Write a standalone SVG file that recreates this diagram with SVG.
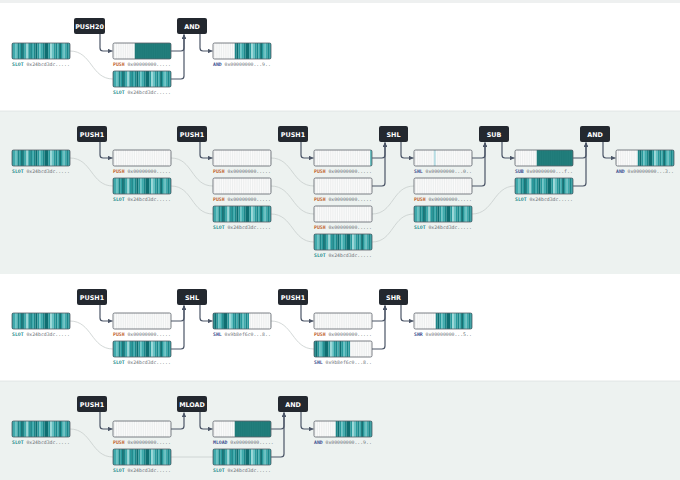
<svg xmlns="http://www.w3.org/2000/svg" xmlns:xlink="http://www.w3.org/1999/xlink" width="680" height="480" viewBox="0 0 680 480">
<style>
.s1{fill:#0f6e71}.s2{fill:#1b878a}.s3{fill:#28999c}.s4{fill:#3eabad}.s5{fill:#66c2c3}.s6{fill:#9ad8d8}
.cb{fill:none;stroke:#5a6068;stroke-width:0.8}
.wh{fill:url(#hatch)}
.dk{fill:url(#dark)}
.op rect{fill:#23282f}
.op text{fill:#ffffff;font-family:"DejaVu Sans","Liberation Sans",sans-serif;font-weight:bold;font-size:6.4px;text-anchor:middle}
.lb{font-family:"DejaVu Sans Mono","Liberation Mono",monospace;font-size:4.8px;fill:#6a6f75}
.k-slot{fill:#1d8a8b;font-weight:bold}
.k-push{fill:#c1652f;font-weight:bold}
.k-res{fill:#3c4f8f;font-weight:bold}
.ar{fill:none;stroke:#4b5567;stroke-width:1.2;marker-end:url(#ah)}
.ln{fill:none;stroke:#c8cecd;stroke-width:0.8}
</style>
<defs>
<pattern id="hatch" patternUnits="userSpaceOnUse" width="1.8125" height="16"><rect width="1.8125" height="16" fill="#fbfbfb"/><rect width="0.35" height="16" fill="#d6dada"/></pattern>
<pattern id="dark" patternUnits="userSpaceOnUse" width="1.8125" height="16"><rect width="1.8125" height="16" fill="#1e7a78"/><rect width="0.3" height="16" fill="#2a8684"/></pattern>
<marker id="ah" viewBox="0 0 6 6" refX="6" refY="3" markerWidth="4.5" markerHeight="4.5" orient="auto" markerUnits="userSpaceOnUse"><path d="M0,0 L6,3 L0,6 z" fill="#4b5567"/></marker>
<g id="hi">
<rect class="s3" x="0" y="0" width="1.85" height="16"/><rect class="s4" x="1.8125" y="0" width="1.85" height="16"/><rect class="s5" x="3.625" y="0" width="1.85" height="16"/><rect class="s2" x="5.4375" y="0" width="1.85" height="16"/><rect class="s3" x="7.25" y="0" width="1.85" height="16"/><rect class="s1" x="9.0625" y="0" width="1.85" height="16"/><rect class="s2" x="10.875" y="0" width="1.85" height="16"/><rect class="s4" x="12.6875" y="0" width="1.85" height="16"/><rect class="s6" x="14.5" y="0" width="1.85" height="16"/><rect class="s3" x="16.3125" y="0" width="1.85" height="16"/><rect class="s2" x="18.125" y="0" width="1.85" height="16"/><rect class="s4" x="19.9375" y="0" width="1.85" height="16"/>
</g>
<g id="lo">
<rect class="s2" x="0" y="0" width="1.85" height="16"/><rect class="s1" x="1.8125" y="0" width="1.85" height="16"/><rect class="s3" x="3.625" y="0" width="1.85" height="16"/><rect class="s5" x="5.4375" y="0" width="1.85" height="16"/><rect class="s4" x="7.25" y="0" width="1.85" height="16"/><rect class="s2" x="9.0625" y="0" width="1.85" height="16"/><rect class="s1" x="10.875" y="0" width="3.65" height="16"/><rect class="s3" x="14.5" y="0" width="1.85" height="16"/><rect class="s6" x="16.3125" y="0" width="1.85" height="16"/><rect class="s5" x="18.125" y="0" width="1.85" height="16"/><rect class="s3" x="19.9375" y="0" width="1.85" height="16"/><rect class="s2" x="21.75" y="0" width="1.85" height="16"/><rect class="s4" x="23.5625" y="0" width="1.85" height="16"/><rect class="s1" x="25.375" y="0" width="1.85" height="16"/><rect class="s3" x="27.1875" y="0" width="1.85" height="16"/><rect class="s5" x="29" y="0" width="1.85" height="16"/><rect class="s4" x="30.8125" y="0" width="1.85" height="16"/><rect class="s2" x="32.625" y="0" width="1.85" height="16"/><rect class="s3" x="34.4375" y="0" width="1.8125" height="16"/>
</g>
</defs>

<!-- bands -->
<g id="bands">
<rect x="0" y="0" width="680" height="480" fill="#ffffff"/>
<rect x="0" y="0" width="680" height="3" fill="#eef0f0"/>
<rect x="0" y="111" width="680" height="163" fill="#edf2f0"/>
<line x1="0" y1="111" x2="680" y2="111" stroke="#dde2e1" stroke-width="0.8"/>
<rect x="0" y="381" width="680" height="99" fill="#edf2f0"/>
<line x1="0" y1="381" x2="680" y2="381" stroke="#dde2e1" stroke-width="0.8"/>
</g>

<!-- connectors -->
<g id="connectors">
<!-- band 1 -->
<path class="ln" d="M70 51 C92 51 91 79 113 79"/>
<path class="ar" d="M100 34 V48 Q100 51 103 51 H112.5"/>
<path class="ar" d="M171 51 H181 Q184 51 184 48 V34.5"/>
<path class="ar" d="M171 79 H181 Q184 79 184 76 V34.5"/>
<path class="ar" d="M200 34 V48 Q200 51 203 51 H212.5"/>
<!-- band 2 -->
<path class="ln" d="M70 158 C92 158 91 186 113 186"/>
<path class="ln" d="M171 158 C193 158 191 186 213 186"/>
<path class="ln" d="M171 186 C193 186 191 214 213 214"/>
<path class="ln" d="M271 158 C293 158 292 186 314 186"/>
<path class="ln" d="M271 186 C293 186 292 214 314 214"/>
<path class="ln" d="M271 214 C293 214 292 242 314 242"/>
<path class="ln" d="M372 214 C394 214 392 186 414 186"/>
<path class="ln" d="M372 242 C394 242 392 214 414 214"/>
<path class="ln" d="M472 214 C494 214 493 186 515 186"/>
<path class="ar" d="M100 142 V155 Q100 158 103 158 H112.5"/>
<path class="ar" d="M200 142 V155 Q200 158 203 158 H212.5"/>
<path class="ar" d="M301 142 V155 Q301 158 304 158 H313.5"/>
<path class="ar" d="M372 158 H382 Q385 158 385 155 V142.5"/>
<path class="ar" d="M372 186 H382 Q385 186 385 183 V142.5"/>
<path class="ar" d="M401 142 V155 Q401 158 404 158 H413.5"/>
<path class="ar" d="M472 158 H482 Q485 158 485 155 V142.5"/>
<path class="ar" d="M472 186 H482 Q485 186 485 183 V142.5"/>
<path class="ar" d="M502 142 V155 Q502 158 505 158 H514.5"/>
<path class="ar" d="M573 158 H583 Q586 158 586 155 V142.5"/>
<path class="ar" d="M573 186 H583 Q586 186 586 183 V142.5"/>
<path class="ar" d="M603 142 V155 Q603 158 606 158 H615.5"/>
<!-- band 3 -->
<path class="ln" d="M70 321 C92 321 91 349 113 349"/>
<path class="ln" d="M271 321 C293 321 292 349 314 349"/>
<path class="ar" d="M100 305 V318 Q100 321 103 321 H112.5"/>
<path class="ar" d="M171 321 H181 Q184 321 184 318 V305.5"/>
<path class="ar" d="M171 349 H181 Q184 349 184 346 V305.5"/>
<path class="ar" d="M200 305 V318 Q200 321 203 321 H212.5"/>
<path class="ar" d="M301 305 V318 Q301 321 304 321 H313.5"/>
<path class="ar" d="M372 321 H382 Q385 321 385 318 V305.5"/>
<path class="ar" d="M372 349 H382 Q385 349 385 346 V305.5"/>
<path class="ar" d="M401 305 V318 Q401 321 404 321 H413.5"/>
<!-- band 4 -->
<path class="ln" d="M70 429 C92 429 91 457 113 457"/>
<path class="ln" d="M171 457 H213"/>
<path class="ar" d="M100 412 V426 Q100 429 103 429 H112.5"/>
<path class="ar" d="M171 429 H181 Q184 429 184 426 V412.5"/>
<path class="ar" d="M200 412 V426 Q200 429 203 429 H212.5"/>
<path class="ar" d="M271 429 H281 Q284 429 284 426 V412.5"/>
<path class="ar" d="M271 457 H281 Q284 457 284 454 V412.5"/>
<path class="ar" d="M301 412 V426 Q301 429 304 429 H313.5"/>
</g>

<!-- ===== band 1 ===== -->
<g id="b1-op-push20" class="op"><rect x="74" y="18" width="31" height="16" rx="2"/><text x="89.5" y="28.5">PUSH20</text></g>
<g id="b1-op-and" class="op"><rect x="177" y="18" width="30" height="16" rx="2"/><text x="192" y="28.5">AND</text></g>
<g id="b1-c0-slot"><use href="#hi" x="12" y="43"/><use href="#lo" x="33.75" y="43"/><rect class="cb" x="12" y="43" width="58" height="16" rx="1.5"/><text class="lb" x="12" y="66"><tspan class="k-slot">SLOT</tspan> 0x24bcd3dc.....</text></g>
<g id="b1-c1-push"><rect class="wh" x="113" y="43" width="21.75" height="16"/><rect class="dk" x="134.75" y="43" width="36.25" height="16"/><rect class="cb" x="113" y="43" width="58" height="16" rx="1.5"/><text class="lb" x="113" y="66"><tspan class="k-push">PUSH</tspan> 0x00000000.....</text></g>
<g id="b1-c1-slot"><use href="#hi" x="113" y="71"/><use href="#lo" x="134.75" y="71"/><rect class="cb" x="113" y="71" width="58" height="16" rx="1.5"/><text class="lb" x="113" y="94"><tspan class="k-slot">SLOT</tspan> 0x24bcd3dc.....</text></g>
<g id="b1-c2-and"><rect class="wh" x="213" y="43" width="21.75" height="16"/><use href="#lo" x="234.75" y="43"/><rect class="cb" x="213" y="43" width="58" height="16" rx="1.5"/><text class="lb" x="213" y="66"><tspan class="k-res">AND</tspan> 0x00000000...9..</text></g>

<!-- ===== band 2 ===== -->
<g id="b2-op-push1a" class="op"><rect x="77" y="126" width="30" height="16" rx="2"/><text x="92" y="136.5">PUSH1</text></g>
<g id="b2-op-push1b" class="op"><rect x="177" y="126" width="30" height="16" rx="2"/><text x="192" y="136.5">PUSH1</text></g>
<g id="b2-op-push1c" class="op"><rect x="278" y="126" width="30" height="16" rx="2"/><text x="293" y="136.5">PUSH1</text></g>
<g id="b2-op-shl" class="op"><rect x="379" y="126" width="29" height="16" rx="2"/><text x="393.5" y="136.5">SHL</text></g>
<g id="b2-op-sub" class="op"><rect x="479" y="126" width="30" height="16" rx="2"/><text x="494" y="136.5">SUB</text></g>
<g id="b2-op-and" class="op"><rect x="580" y="126" width="30" height="16" rx="2"/><text x="595" y="136.5">AND</text></g>

<g id="b2-c0-slot"><use href="#hi" x="12" y="150"/><use href="#lo" x="33.75" y="150"/><rect class="cb" x="12" y="150" width="58" height="16" rx="1.5"/><text class="lb" x="12" y="173"><tspan class="k-slot">SLOT</tspan> 0x24bcd3dc.....</text></g>
<g id="b2-c1-push"><rect class="wh" x="113" y="150" width="58" height="16"/><rect class="cb" x="113" y="150" width="58" height="16" rx="1.5"/><text class="lb" x="113" y="173"><tspan class="k-push">PUSH</tspan> 0x00000000.....</text></g>
<g id="b2-c1-slot"><use href="#hi" x="113" y="178"/><use href="#lo" x="134.75" y="178"/><rect class="cb" x="113" y="178" width="58" height="16" rx="1.5"/><text class="lb" x="113" y="201"><tspan class="k-slot">SLOT</tspan> 0x24bcd3dc.....</text></g>
<g id="b2-c2-push-a"><rect class="wh" x="213" y="150" width="58" height="16"/><rect class="cb" x="213" y="150" width="58" height="16" rx="1.5"/><text class="lb" x="213" y="173"><tspan class="k-push">PUSH</tspan> 0x00000000.....</text></g>
<g id="b2-c2-push-b"><rect class="wh" x="213" y="178" width="58" height="16"/><rect class="cb" x="213" y="178" width="58" height="16" rx="1.5"/><text class="lb" x="213" y="201"><tspan class="k-push">PUSH</tspan> 0x00000000.....</text></g>
<g id="b2-c2-slot"><use href="#hi" x="213" y="206"/><use href="#lo" x="234.75" y="206"/><rect class="cb" x="213" y="206" width="58" height="16" rx="1.5"/><text class="lb" x="213" y="229"><tspan class="k-slot">SLOT</tspan> 0x24bcd3dc.....</text></g>
<g id="b2-c3-push-a"><rect class="wh" x="314" y="150" width="58" height="16"/><rect x="370.2" y="150" width="1.8" height="16" fill="#4fb3b5"/><rect class="cb" x="314" y="150" width="58" height="16" rx="1.5"/><text class="lb" x="314" y="173"><tspan class="k-push">PUSH</tspan> 0x00000000.....</text></g>
<g id="b2-c3-push-b"><rect class="wh" x="314" y="178" width="58" height="16"/><rect class="cb" x="314" y="178" width="58" height="16" rx="1.5"/><text class="lb" x="314" y="201"><tspan class="k-push">PUSH</tspan> 0x00000000.....</text></g>
<g id="b2-c3-push-c"><rect class="wh" x="314" y="206" width="58" height="16"/><rect class="cb" x="314" y="206" width="58" height="16" rx="1.5"/><text class="lb" x="314" y="229"><tspan class="k-push">PUSH</tspan> 0x00000000.....</text></g>
<g id="b2-c3-slot"><use href="#hi" x="314" y="234"/><use href="#lo" x="335.75" y="234"/><rect class="cb" x="314" y="234" width="58" height="16" rx="1.5"/><text class="lb" x="314" y="257"><tspan class="k-slot">SLOT</tspan> 0x24bcd3dc.....</text></g>
<g id="b2-c4-shl"><rect class="wh" x="414" y="150" width="58" height="16"/><rect x="433.9" y="150" width="1.8" height="16" fill="#b7dde4"/><rect class="cb" x="414" y="150" width="58" height="16" rx="1.5"/><text class="lb" x="414" y="173"><tspan class="k-res">SHL</tspan> 0x00000000...0..</text></g>
<g id="b2-c4-push"><rect class="wh" x="414" y="178" width="58" height="16"/><rect class="cb" x="414" y="178" width="58" height="16" rx="1.5"/><text class="lb" x="414" y="201"><tspan class="k-push">PUSH</tspan> 0x00000000.....</text></g>
<g id="b2-c4-slot"><use href="#hi" x="414" y="206"/><use href="#lo" x="435.75" y="206"/><rect class="cb" x="414" y="206" width="58" height="16" rx="1.5"/><text class="lb" x="414" y="229"><tspan class="k-slot">SLOT</tspan> 0x24bcd3dc.....</text></g>
<g id="b2-c5-sub"><rect class="wh" x="515" y="150" width="21.75" height="16"/><rect class="dk" x="536.75" y="150" width="36.25" height="16"/><rect class="cb" x="515" y="150" width="58" height="16" rx="1.5"/><text class="lb" x="515" y="173"><tspan class="k-res">SUB</tspan> 0x00000000...f..</text></g>
<g id="b2-c5-slot"><use href="#hi" x="515" y="178"/><use href="#lo" x="536.75" y="178"/><rect class="cb" x="515" y="178" width="58" height="16" rx="1.5"/><text class="lb" x="515" y="201"><tspan class="k-slot">SLOT</tspan> 0x24bcd3dc.....</text></g>
<g id="b2-c6-and"><rect class="wh" x="616" y="150" width="21.75" height="16"/><use href="#lo" x="637.75" y="150"/><rect class="cb" x="616" y="150" width="58" height="16" rx="1.5"/><text class="lb" x="616" y="173"><tspan class="k-res">AND</tspan> 0x00000000...3..</text></g>

<!-- ===== band 3 ===== -->
<g id="b3-op-push1a" class="op"><rect x="77" y="289" width="30" height="16" rx="2"/><text x="92" y="299.5">PUSH1</text></g>
<g id="b3-op-shl" class="op"><rect x="177" y="289" width="30" height="16" rx="2"/><text x="192" y="299.5">SHL</text></g>
<g id="b3-op-push1b" class="op"><rect x="278" y="289" width="30" height="16" rx="2"/><text x="293" y="299.5">PUSH1</text></g>
<g id="b3-op-shr" class="op"><rect x="379" y="289" width="29" height="16" rx="2"/><text x="393.5" y="299.5">SHR</text></g>

<g id="b3-c0-slot"><use href="#hi" x="12" y="313"/><use href="#lo" x="33.75" y="313"/><rect class="cb" x="12" y="313" width="58" height="16" rx="1.5"/><text class="lb" x="12" y="336"><tspan class="k-slot">SLOT</tspan> 0x24bcd3dc.....</text></g>
<g id="b3-c1-push"><rect class="wh" x="113" y="313" width="58" height="16"/><rect class="cb" x="113" y="313" width="58" height="16" rx="1.5"/><text class="lb" x="113" y="336"><tspan class="k-push">PUSH</tspan> 0x00000000.....</text></g>
<g id="b3-c1-slot"><use href="#hi" x="113" y="341"/><use href="#lo" x="134.75" y="341"/><rect class="cb" x="113" y="341" width="58" height="16" rx="1.5"/><text class="lb" x="113" y="364"><tspan class="k-slot">SLOT</tspan> 0x24bcd3dc.....</text></g>
<g id="b3-c2-shl"><use href="#lo" x="213" y="313"/><rect class="wh" x="249.25" y="313" width="21.75" height="16"/><rect class="cb" x="213" y="313" width="58" height="16" rx="1.5"/><text class="lb" x="213" y="336"><tspan class="k-res">SHL</tspan> 0x9b8ef6c0...8..</text></g>
<g id="b3-c3-push"><rect class="wh" x="314" y="313" width="58" height="16"/><rect class="cb" x="314" y="313" width="58" height="16" rx="1.5"/><text class="lb" x="314" y="336"><tspan class="k-push">PUSH</tspan> 0x00000000.....</text></g>
<g id="b3-c3-shl"><use href="#lo" x="314" y="341"/><rect class="wh" x="350.25" y="341" width="21.75" height="16"/><rect class="cb" x="314" y="341" width="58" height="16" rx="1.5"/><text class="lb" x="314" y="364"><tspan class="k-res">SHL</tspan> 0x9b8ef6c0...8..</text></g>
<g id="b3-c4-shr"><rect class="wh" x="414" y="313" width="21.75" height="16"/><use href="#lo" x="435.75" y="313"/><rect class="cb" x="414" y="313" width="58" height="16" rx="1.5"/><text class="lb" x="414" y="336"><tspan class="k-res">SHR</tspan> 0x00000000...5..</text></g>

<!-- ===== band 4 ===== -->
<g id="b4-op-push1" class="op"><rect x="77" y="396" width="30" height="16" rx="2"/><text x="92" y="406.5">PUSH1</text></g>
<g id="b4-op-mload" class="op"><rect x="177" y="396" width="30" height="16" rx="2"/><text x="192" y="406.5">MLOAD</text></g>
<g id="b4-op-and" class="op"><rect x="278" y="396" width="30" height="16" rx="2"/><text x="293" y="406.5">AND</text></g>

<g id="b4-c0-slot"><use href="#hi" x="12" y="421"/><use href="#lo" x="33.75" y="421"/><rect class="cb" x="12" y="421" width="58" height="16" rx="1.5"/><text class="lb" x="12" y="444"><tspan class="k-slot">SLOT</tspan> 0x24bcd3dc.....</text></g>
<g id="b4-c1-push"><rect class="wh" x="113" y="421" width="58" height="16"/><rect class="cb" x="113" y="421" width="58" height="16" rx="1.5"/><text class="lb" x="113" y="444"><tspan class="k-push">PUSH</tspan> 0x00000000.....</text></g>
<g id="b4-c1-slot"><use href="#hi" x="113" y="449"/><use href="#lo" x="134.75" y="449"/><rect class="cb" x="113" y="449" width="58" height="16" rx="1.5"/><text class="lb" x="113" y="472"><tspan class="k-slot">SLOT</tspan> 0x24bcd3dc.....</text></g>
<g id="b4-c2-mload"><rect class="wh" x="213" y="421" width="21.75" height="16"/><rect class="dk" x="234.75" y="421" width="36.25" height="16"/><rect class="cb" x="213" y="421" width="58" height="16" rx="1.5"/><text class="lb" x="213" y="444"><tspan class="k-res">MLOAD</tspan> 0x00000000.....</text></g>
<g id="b4-c2-slot"><use href="#hi" x="213" y="449"/><use href="#lo" x="234.75" y="449"/><rect class="cb" x="213" y="449" width="58" height="16" rx="1.5"/><text class="lb" x="213" y="472"><tspan class="k-slot">SLOT</tspan> 0x24bcd3dc.....</text></g>
<g id="b4-c3-and"><rect class="wh" x="314" y="421" width="21.75" height="16"/><use href="#lo" x="335.75" y="421"/><rect class="cb" x="314" y="421" width="58" height="16" rx="1.5"/><text class="lb" x="314" y="444"><tspan class="k-res">AND</tspan> 0x00000000...9..</text></g>
</svg>
